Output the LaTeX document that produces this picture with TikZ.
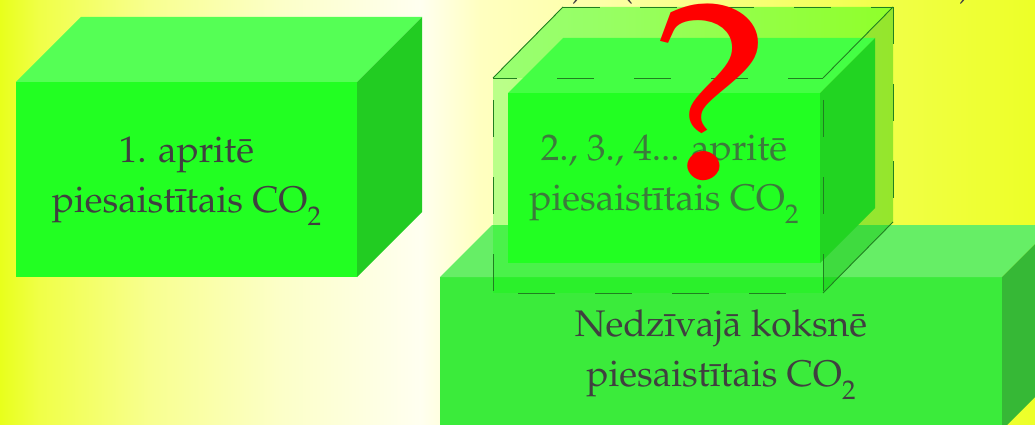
\documentclass[tikz,border=0pt]{standalone}
\usepackage[T1]{fontenc}
\renewcommand{\rmdefault}{ppl}
\definecolor{yA}{HTML}{E8FF1C}
\definecolor{yB}{HTML}{F0FF48}
\definecolor{yC}{HTML}{F8FF90}
\definecolor{yD}{HTML}{FCFFC8}
\definecolor{yE}{HTML}{FFFFF0}
\definecolor{yF}{HTML}{FFFFC0}
\definecolor{yG}{HTML}{FDFFA8}
\definecolor{yH}{HTML}{F0FF44}
\definecolor{yI}{HTML}{EDFF28}
\definecolor{fA}{HTML}{22FF22}
\definecolor{tA}{HTML}{55FF55}
\definecolor{sA}{HTML}{22CC22}
\definecolor{fB}{HTML}{22FF22}
\definecolor{tB}{HTML}{44FF44}
\definecolor{sB}{HTML}{22D422}
\definecolor{fC}{HTML}{3BEB3B}
\definecolor{tC}{HTML}{66EE66}
\definecolor{sC}{HTML}{36B836}
\definecolor{sideT}{HTML}{00BE00}
\definecolor{txtgray}{HTML}{404040}
\definecolor{txtgreen}{HTML}{3C7A3C}
\definecolor{edgegreen}{HTML}{208020}
\pgfdeclarehorizontalshading{bgshade}{100bp}{color(0bp)=(yA); color(25bp)=(yA); color(26.93bp)=(yB); color(32.25bp)=(yC); color(38.5bp)=(yD); color(45.3bp)=(yE); color(48.2bp)=(yF); color(54bp)=(yG); color(68.5bp)=(yH); color(75bp)=(yI); color(100bp)=(yI)}
\newcommand{\mysubtwo}{\raisebox{-13pt}[0pt][0pt]{\fontsize{27}{27}\selectfont 2}}
\tikzset{
  face/.style={draw=none, inner sep=0pt, outer sep=0pt},
  lbl/.style={align=center, text=txtgray, font=\fontsize{37}{50}\selectfont},
  edge/.style={draw=edgegreen, line width=0.9pt},
  dashedge/.style={edge, dash pattern=on 37pt off 40pt},
}
\begin{document}
\begin{tikzpicture}[x=1pt, y=-1pt]
\useasboundingbox (0,0) rectangle (1035,425);
\clip (0,0) rectangle (1035,425);
\shade[shading=bgshade] (0,0) rectangle (1035,425);

% box 1
\node[face, fill=fA, minimum width=341pt, minimum height=195pt, lbl] (b1) at (186.5,179.5) {1. aprit\=e\\piesaist\=\i tais CO\mysubtwo};
\fill[tA] (b1.north west) -- ++(65,-65) -- ++(341,0) -- (b1.north east) -- cycle;
\fill[sA] (b1.north east) -- ++(65,-65) -- ++(0,195) -- (b1.south east) -- cycle;

% box 3
\node[face, fill=fC, minimum width=562pt, minimum height=153pt, lbl] (b3) at (721,353.5) {Nedz\=\i vaj\=a koksn\=e\\piesaist\=\i tais CO\mysubtwo};
\fill[tC] (b3.north west) -- ++(52,-52) -- ++(562,0) -- (b3.north east) -- cycle;
\fill[sC] (b3.north east) -- ++(52,-52) -- ++(0,153) -- (b3.south east) -- cycle;

% translucent box faces
\node[face, fill=green, fill opacity=0.27, minimum width=330pt, minimum height=215pt] (tb) at (658,185.5) {};
\fill[green, fill opacity=0.4] (tb.north west) -- ++(70,-71) -- ++(330,0) -- (tb.north east) -- cycle;
\fill[sideT, fill opacity=0.38] (tb.north east) -- ++(70,-71) -- ++(0,215) -- (tb.south east) -- cycle;

% box 2
\node[face, fill=fB, minimum width=312pt, minimum height=170pt, lbl, text=txtgreen] (b2) at (664,178) {2., 3., 4... aprit\=e\\piesaist\=\i tais CO\mysubtwo};
\fill[tB] (b2.north west) -- ++(55,-55) -- ++(312,0) -- (b2.north east) -- cycle;
\fill[sB] (b2.north east) -- ++(55,-55) -- ++(0,170) -- (b2.south east) -- cycle;

% translucent box edges
\draw[dashedge, dash phase=13pt] (tb.north west) -- (tb.north east);
\draw[dashedge, dash phase=52pt] (tb.south west) -- (tb.south east);
\draw[dashedge, dash phase=55pt] (tb.north west) -- (tb.south west);
\draw[dashedge, dash phase=55pt] (tb.north east) -- (tb.south east);
\draw[dashedge] ([shift={(70,-71)}]tb.north west) -- ([shift={(70,-71)}]tb.north east);
\draw[dashedge] ([shift={(70,-71)}]tb.north east) -- ([shift={(70,-71)}]tb.south east);
\draw[edge] (tb.north west) -- ++(70,-71);
\draw[edge] (tb.north east) -- ++(70,-71);
\draw[edge] (tb.south east) -- ++(70,-71);

% question mark
\node[font=\fontsize{253}{253}\selectfont, text=red, anchor=base, inner sep=0pt] (qm) at (710,179) {\scalebox{1.1}[1]{?}};

% clipped text fragments at the top
\node[lbl, anchor=base, inner sep=0pt] (p1) at (578,-3) {)};
\node[lbl, anchor=base, inner sep=0pt] (p2) at (627,-3) {(};
\node[lbl, anchor=base, inner sep=0pt] (p3) at (965,-3) {)};
\end{tikzpicture}
\end{document}
